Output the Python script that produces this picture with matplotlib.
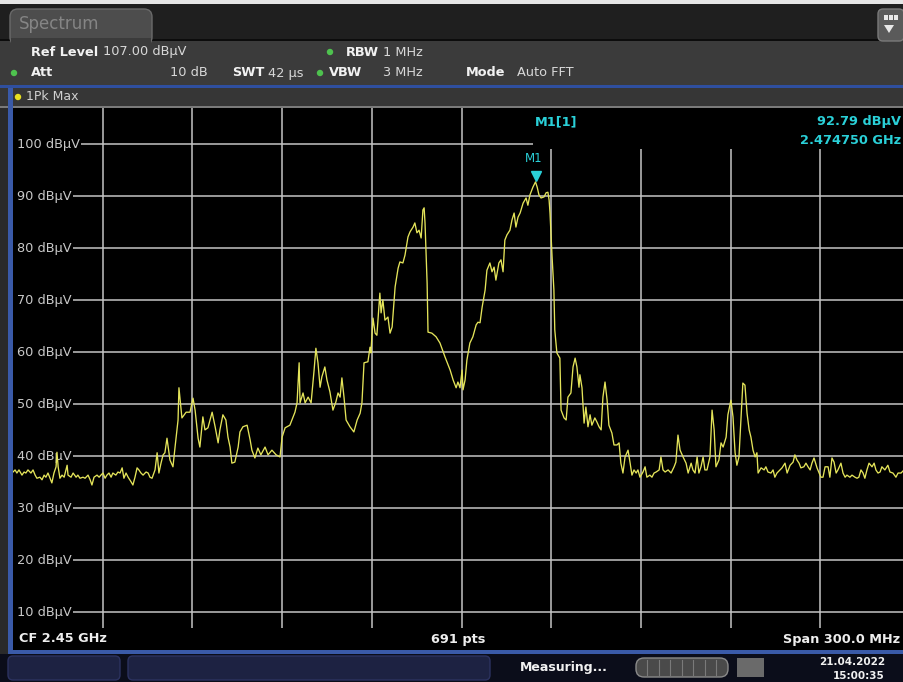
import matplotlib
matplotlib.use("Agg")
import matplotlib.pyplot as plt
from matplotlib.patches import FancyBboxPatch, Rectangle, Circle, Polygon
from matplotlib.transforms import offset_copy

W, H = 904, 682

# trace readings (MHz, dBuV)
freq_mhz = [
    2300.0, 2300.7, 2301.3, 2302.0, 2303.0, 2303.7, 2304.3, 2305.0, 2306.0, 2306.7,
    2307.4, 2308.0, 2309.0, 2309.7, 2310.4, 2311.0, 2311.7, 2312.4, 2313.0, 2313.7,
    2314.4, 2314.7, 2315.1, 2315.7, 2316.4, 2317.1, 2318.1, 2318.4, 2319.4, 2320.1,
    2321.1, 2321.7, 2322.4, 2323.4, 2324.1, 2325.1, 2325.8, 2326.4, 2327.1, 2328.1,
    2328.8, 2329.4, 2330.1, 2330.8, 2331.4, 2332.1, 2332.8, 2333.4, 2334.4, 2335.1,
    2335.8, 2336.5, 2337.1, 2337.8, 2338.5, 2339.5, 2340.1, 2340.8, 2341.5, 2342.1,
    2342.8, 2343.5, 2344.5, 2345.2, 2345.8, 2346.5,
    2347.5, 2348.2, 2348.8, 2349.5, 2350.2, 2350.8, 2351.5, 2352.5, 2353.5, 2354.2,
    2355.2, 2355.5, 2356.5, 2357.9, 2359.2, 2360.2, 2360.9, 2361.9, 2362.5, 2363.5,
    2364.2, 2365.2, 2366.6, 2367.6, 2368.6, 2369.2, 2370.2, 2371.2, 2371.9, 2372.6,
    2373.2, 2374.2, 2375.3, 2375.9, 2376.9, 2378.3, 2379.3, 2379.9, 2380.9, 2381.9,
    2382.9, 2384.3, 2385.3, 2386.6, 2388.0, 2389.3, 2390.0, 2391.0, 2392.6, 2394.3,
    2395.0, 2395.7, 2396.0, 2397.0, 2397.7, 2398.7, 2399.7, 2400.7, 2401.3, 2402.0,
    2402.7, 2403.3, 2404.3, 2405.0, 2406.0, 2407.0, 2408.0, 2408.7, 2409.4, 2410.0,
    2410.7, 2411.4, 2412.7, 2414.0, 2415.1, 2416.1, 2416.7, 2417.4, 2418.7, 2419.4,
    2419.7, 2420.4, 2421.1, 2421.7, 2422.7, 2423.1, 2423.7, 2424.4, 2425.4, 2426.1,
    2426.8, 2427.8, 2428.8, 2429.4, 2430.4, 2431.1, 2432.1, 2432.8, 2433.8, 2434.4,
    2435.1, 2435.8, 2436.5, 2437.1, 2437.5, 2437.8, 2438.5, 2438.8, 2440.1, 2441.5,
    2442.8, 2444.5, 2446.2, 2447.2, 2448.2, 2448.8, 2449.5, 2450.2, 2450.5, 2451.2,
    2451.8, 2452.8, 2453.8, 2454.9, 2455.5, 2456.2, 2456.9, 2457.9, 2458.5, 2459.5,
    2460.2, 2460.9, 2461.5, 2462.5, 2463.2, 2463.9, 2464.5, 2465.2, 2466.2, 2466.9,
    2467.6, 2468.2, 2468.9, 2469.6, 2470.6, 2471.6, 2472.2, 2472.9, 2473.9, 2474.75,
    2475.3, 2475.9, 2476.6, 2477.6, 2478.3, 2478.9, 2479.3, 2479.6, 2480.3, 2480.9,
    2481.2, 2481.9, 2482.9,
    2483.3, 2484.3, 2485.0, 2485.6, 2486.6, 2487.3, 2488.0, 2488.6, 2489.3, 2489.6,
    2490.3, 2491.0, 2491.6, 2492.3, 2493.0, 2493.6, 2494.6, 2495.3, 2496.0, 2496.7,
    2497.3, 2498.0, 2498.7, 2499.3, 2500.3, 2501.0, 2502.0, 2502.7, 2503.3, 2504.0,
    2504.7, 2505.7, 2506.4, 2507.0, 2507.7, 2508.4, 2509.0, 2509.7, 2510.7, 2511.4,
    2512.0, 2513.0, 2513.7, 2514.4, 2515.1, 2516.1, 2516.7, 2517.4, 2518.1, 2519.1,
    2520.1, 2521.1, 2521.7, 2522.4, 2523.1, 2524.1, 2525.1, 2525.8, 2526.8, 2527.4,
    2528.1, 2528.8, 2529.4, 2530.1, 2530.8, 2531.4, 2532.1, 2533.1, 2533.8, 2534.5,
    2535.1, 2536.1, 2536.8, 2537.5, 2538.5, 2539.1, 2540.1, 2540.8, 2541.5, 2542.1,
    2542.8, 2543.5, 2544.1, 2544.8, 2545.5, 2546.2, 2546.8, 2547.5, 2548.2, 2548.8,
    2549.2, 2550.2, 2551.2, 2551.8, 2552.5, 2553.5, 2554.2, 2554.8, 2555.5, 2556.5,
    2557.2, 2558.2, 2558.9, 2559.9, 2560.9, 2561.5, 2562.2, 2562.9, 2563.5, 2564.5,
    2565.2, 2565.9, 2566.6, 2567.2, 2567.9, 2568.9, 2569.6, 2570.2, 2570.9, 2571.6,
    2572.6, 2573.2, 2573.9, 2574.6, 2575.3, 2575.9, 2576.9, 2577.6, 2578.3, 2578.9,
    2579.9, 2580.6, 2581.6, 2582.3, 2582.9, 2583.6, 2584.3, 2584.9, 2585.6, 2586.3,
    2587.3, 2588.0, 2588.6, 2589.3, 2590.0, 2590.6, 2591.6, 2592.6, 2593.3, 2594.3,
    2595.3, 2596.0, 2597.0, 2598.0, 2600.0,
]
level_dbuv = [
    37.0, 37.4, 36.8, 37.4, 36.4, 37.0, 36.8, 37.4, 36.8, 37.4,
    36.4, 35.8, 36.0, 35.5, 36.4, 36.0, 36.8, 35.8, 34.9, 36.8,
    38.0, 40.8, 38.0, 35.8, 36.4, 36.0, 38.3, 36.4, 36.0, 36.8,
    36.0, 36.4, 35.8, 36.0, 35.8, 36.4, 35.5, 34.5, 36.0, 36.4,
    36.0, 36.4, 36.8, 35.8, 36.4, 36.8, 36.0, 36.8, 36.4, 37.0,
    36.8, 37.8, 35.8, 36.8, 36.0, 35.1, 34.5, 36.0, 37.8, 37.4,
    36.8, 36.4, 37.0, 36.8, 36.0, 35.8,
    37.4, 40.7, 36.8, 38.7, 40.3, 40.7, 43.5, 39.3, 38.0, 41.8,
    47.0, 53.2, 47.4, 48.5, 48.5, 51.2, 48.9, 43.5, 41.8, 47.6,
    45.1, 45.5, 48.5, 45.7, 42.6, 45.1, 48.0, 47.0, 43.7, 41.8,
    38.7, 38.9, 41.8, 44.7, 45.7, 46.0, 43.2, 41.2, 39.7, 41.6,
    40.3, 41.8, 40.3, 41.2, 40.3, 39.9, 43.7, 45.5, 46.0, 48.5,
    50.3, 58.0, 50.3, 52.2, 50.3, 51.4, 50.3, 56.6, 60.8, 58.0,
    53.3, 55.3, 57.2, 54.7, 52.4, 48.9, 50.5, 52.2, 51.4, 55.1,
    51.4, 47.0, 45.7, 44.7, 47.0, 48.3, 50.3, 58.0, 58.2, 61.0,
    59.9, 66.6, 63.7, 63.3, 71.4, 67.6, 70.1, 66.2, 66.8, 63.7,
    64.9, 72.6, 76.2, 77.4, 77.2, 78.7, 82.2, 83.2, 84.1, 84.9,
    83.0, 83.5, 82.0, 87.4, 87.8, 84.9, 73.3, 63.9, 63.7, 63.0,
    61.8, 59.1, 56.6, 54.7, 53.2, 54.3, 53.2, 56.6, 52.8, 54.7,
    58.5, 61.8, 63.0, 65.3, 65.8, 65.7, 68.7, 72.0, 75.8, 77.2,
    75.5, 76.4, 73.9, 77.2, 77.8, 75.5, 81.6, 82.6, 83.5, 85.5,
    86.8, 84.1, 86.0, 86.8, 88.7, 89.7, 88.3, 90.3, 91.8, 92.79,
    91.8, 90.3, 89.7, 89.9, 90.7, 90.8, 89.3, 86.8, 78.3, 72.0,
    64.3, 59.9, 58.9,
    48.9, 47.4, 47.0, 51.4, 52.2, 57.2, 58.9, 57.2, 53.3, 55.7,
    53.2, 46.4, 49.5, 45.7, 48.0, 46.0, 47.4, 46.6, 45.7, 45.1,
    51.4, 54.3, 50.8, 46.0, 44.5, 42.2, 42.2, 42.6, 38.7, 36.8,
    39.9, 41.2, 38.7, 36.4, 37.4, 36.8, 37.4, 36.0, 37.0, 38.0,
    36.0, 36.4, 36.0, 36.8, 37.0, 37.4, 39.9, 37.4, 37.0, 37.4,
    36.8, 38.0, 38.9, 44.1, 41.2, 39.9, 38.7, 36.8, 38.7, 37.4,
    36.8, 39.9, 36.8, 38.0, 39.9, 37.4, 37.4, 39.9, 48.9, 45.1,
    38.0, 39.3, 42.6, 41.8, 43.7, 48.0, 50.8, 47.6, 40.7, 38.3,
    39.9, 47.6, 54.1, 53.7, 48.3, 45.1, 43.7, 41.2, 39.9, 40.7,
    36.8, 37.8, 37.4, 38.0, 37.0, 36.8, 37.4, 36.0, 36.8, 37.4,
    37.8, 38.7, 36.8, 38.3, 38.9, 40.3, 39.3, 38.7, 37.8, 38.0,
    38.7, 38.0, 37.4, 38.7, 39.7, 37.8, 36.8, 36.0, 36.0, 38.0,
    38.0, 36.0, 39.7, 38.9, 36.8, 37.4, 38.7, 36.8, 36.0, 36.4,
    36.0, 36.4, 36.0, 35.8, 36.0, 37.4, 36.8, 35.8, 37.4, 38.7,
    38.0, 38.7, 37.4, 36.8, 37.0, 38.0, 37.4, 38.3, 37.0, 36.8,
    36.0, 36.8, 36.8, 37.4, 37.0,
]
assert len(freq_mhz) == len(level_dbuv)

marker_freq = 2474.75
marker_level = 92.79
ref_level = 107.0
span_mhz = 300.0
center_mhz = 2450.0
n_points = 691
level_ticks = [10, 20, 30, 40, 50, 60, 70, 80, 90, 100]
freq_grid = [2330, 2360, 2390, 2420, 2450, 2480, 2510, 2540, 2570]

GRID = "#c4c4c4"
TRACE = "#e4e45a"
CYAN = "#2ad0d8"
FONT = "DejaVu Sans"

fig = plt.figure(figsize=(W / 100, H / 100), dpi=100)
fig.patch.set_facecolor("#3a3a3a")

# --- instrument chrome (pixel coordinates) ---
bg = fig.add_axes([0, 0, 1, 1], zorder=0)
bg.set_xlim(0, W)
bg.set_ylim(H, 0)
bg.axis("off")


def box(x0, y0, x1, y1, color, **kw):
    bg.add_patch(Rectangle((x0, y0), x1 - x0, y1 - y0, facecolor=color,
                           edgecolor="none", **kw))


box(0, 0, W, 4, "#e6e6e6")
box(0, 4, W, 39, "#1f1f1f")
box(0, 39, W, 41, "#0c0c0c")
box(0, 41, W, 85, "#3b3b3b")
bg.add_patch(FancyBboxPatch((10, 9), 142, 36, boxstyle="round,pad=0,rounding_size=8",
                            facecolor="#4d4d4d", edgecolor="#6a6a6a", lw=1))
box(11, 38, 151, 46, "#3b3b3b")
box(0, 85, W, 88, "#2f4f9f")
box(0, 88, W, 106, "#363636")
box(0, 106, W, 108, "#7a7a7a")
box(0, 108, W, 654, "#2a2a2a")
box(8, 88, 13, 654, "#3a5aa8")
box(13, 628, W, 650, "#000000")
box(8, 650, W, 654, "#3a5aa8")
box(0, 654, W, H, "#0b0d1a")
for x0, x1 in [(8, 120), (128, 490)]:
    bg.add_patch(FancyBboxPatch((x0, 656), x1 - x0, 24,
                                boxstyle="round,pad=0,rounding_size=5",
                                facecolor="#1d2242", edgecolor="#2c3260", lw=1))
bg.add_patch(FancyBboxPatch((636, 658), 92, 19, boxstyle="round,pad=0,rounding_size=8",
                            facecolor="#4a4a4a", edgecolor="#8a8a8a", lw=1))
for i in range(1, 8):
    bg.plot([636 + i * 11.5, 636 + i * 11.5], [660, 675], color="#7a7a7a", lw=0.8)
box(737, 658, 764, 677, "#6a6a6a")
bg.add_patch(FancyBboxPatch((878, 9), 26, 32, boxstyle="round,pad=0,rounding_size=5",
                            facecolor="#5a5a5a", edgecolor="#7a7a7a", lw=1))
for dx in (884, 889, 894):
    box(dx, 15, dx + 4, 20, "#e8e8e8")
bg.add_patch(Polygon([(884, 25), (894, 25), (889, 33)], closed=True,
                     facecolor="#e8e8e8", edgecolor="none"))
for cx, cy, c in [(330, 52, "#4ec24e"), (14, 73, "#4ec24e"),
                  (320, 73, "#4ec24e"), (18, 97, "#e8e020")]:
    bg.add_patch(Circle((cx, cy), 3.2, facecolor=c, edgecolor="none"))

# --- trace area ---
ax = fig.add_axes([13 / W, 1 - 628 / H, 897 / W, 520 / H], zorder=5)
ax.set_facecolor("black")
ax.set_xlim(center_mhz - span_mhz / 2, center_mhz + span_mhz / 2)
ax.set_ylim(ref_level - 100, ref_level)
ax.set_xticks([])
ax.set_yticks([])
for s in ax.spines.values():
    s.set_visible(False)

for f in freq_grid:
    ax.axvline(f, color=GRID, lw=1.1, zorder=1)
for lv in level_ticks:
    ax.axhline(lv, color=GRID, lw=1.1, zorder=1)
    ax.add_patch(Rectangle((2300, lv - 1), 2.0, 2, facecolor="black",
                           edgecolor="none", zorder=2))
    ax.text(2301.3, lv, f"{lv} dBµV", color="#c8c8c8", fontsize=9.3, family=FONT,
            va="center", ha="left", zorder=2,
            bbox=dict(facecolor="black", edgecolor="none", pad=1.2))

# marker readout box hides the grid
ax.add_patch(Rectangle((2473.9, 99.1), 130, 10, facecolor="black",
                       edgecolor="none", zorder=2))

ax.plot(freq_mhz, level_dbuv, color=TRACE, lw=0.95, zorder=3)

tri = offset_copy(ax.transData, fig=fig, x=0, y=4, units="points")
ax.plot([marker_freq], [marker_level], marker="v", color=CYAN, ms=7,
        transform=tri, zorder=4, linestyle="none")
ax.annotate("M1", (marker_freq, marker_level), xytext=(-1, 12),
            textcoords="offset points", ha="center", va="bottom",
            color=CYAN, fontsize=8.5, family=FONT, zorder=4)

# --- text overlay (pixel coordinates) ---
ov = fig.add_axes([0, 0, 1, 1], zorder=10)
ov.set_xlim(0, W)
ov.set_ylim(H, 0)
ov.axis("off")
ov.patch.set_alpha(0)


def label(x, y, s, color="#d8d8d8", size=9.3, weight="normal", ha="left"):
    ov.text(x, y, s, color=color, fontsize=size, fontweight=weight,
            family=FONT, ha=ha, va="center")


label(19, 24, "Spectrum", color="#858585", size=12)
label(31, 52, "Ref Level", color="#f2f2f2", weight="bold")
label(103, 52, f"{ref_level:.2f} dBµV")
label(346, 52, "RBW", color="#f2f2f2", weight="bold")
label(383, 52, "1 MHz")
label(31, 73, "Att", color="#f2f2f2", weight="bold")
label(208, 73, "10 dB", ha="right")
label(232, 73, "SWT", color="#f2f2f2", weight="bold")
label(268, 73, "42 µs")
label(329, 73, "VBW", color="#f2f2f2", weight="bold")
label(383, 73, "3 MHz")
label(466, 73, "Mode", color="#f2f2f2", weight="bold")
label(517, 73, "Auto FFT")
label(26, 97, "1Pk Max", color="#d0d0d0", size=9)

label(535, 122, "M1[1]", color=CYAN, weight="bold", size=9.3)
label(901, 122, f"{marker_level:.2f} dBµV", color=CYAN, weight="bold", ha="right")
label(901, 140, f"{marker_freq / 1000:.6f} GHz", color=CYAN, weight="bold", ha="right")

label(19, 639, f"CF {center_mhz / 1000:.2f} GHz", color="#eeeeee", weight="bold")
label(458, 639, f"{n_points} pts", color="#eeeeee", weight="bold", ha="center")
label(900, 639, f"Span {span_mhz:.1f} MHz", color="#eeeeee", weight="bold", ha="right")

label(520, 668, "Measuring...", color="#f0f0f0", weight="bold", size=9)
label(885, 662, "21.04.2022", color="#f0f0f0", weight="bold", size=7.5, ha="right")
label(885, 676, "15:00:35", color="#f0f0f0", weight="bold", size=7.5, ha="right")

fig.savefig("out.png", dpi=100, facecolor=fig.get_facecolor())
